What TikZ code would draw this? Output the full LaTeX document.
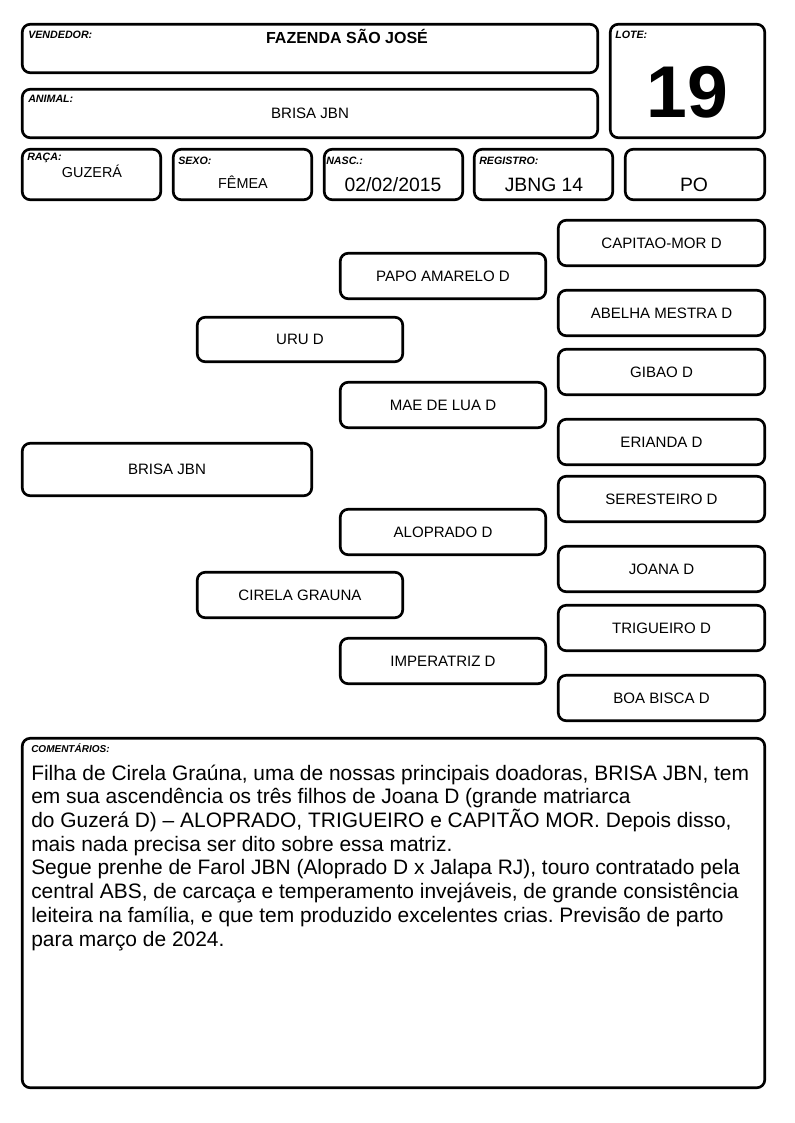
\documentclass[tikz,border=0pt]{standalone}
\usepackage{fontspec}
\setmainfont{Liberation Sans}
\frenchspacing
\newcommand\pbox[6]{\node[box, minimum width={(#4-#2-2.5)*0.75pt}, minimum height={(#5-#3-2.5)*0.75pt}] (#1) at ({(#2+#4)/2},{(#3+#5)/2}) {#6};}
\begin{document}
\begin{tikzpicture}[x=0.75pt,y=-0.75pt,
  box/.style={draw, line width=2pt, rounded corners=6pt, inner sep=0pt, font=\fontsize{11.3}{13}\selectfont},
  lbl/.style={anchor=base west, inner sep=0pt, font=\fontsize{8}{9}\selectfont\bfseries\itshape},
  val/.style={anchor=base, inner sep=0pt, font=\fontsize{10.8}{13}\selectfont},
  bigval/.style={anchor=base, inner sep=0pt, font=\fontsize{14.5}{17}\selectfont},
  cmt/.style={anchor=base west, inner sep=0pt, font=\fontsize{15.7}{18}\selectfont\frenchspacing}]
\useasboundingbox[fill=white] (0,0) rectangle (794,1123);
% header boxes
\pbox{vend}{21}{23}{599}{74}{}
\pbox{anim}{21}{88}{599}{139}{}
\pbox{lote}{609}{23}{766}{139}{}
\pbox{raca}{21}{148}{162}{201}{}
\pbox{sexo}{172}{148}{313}{201}{}
\pbox{nasc}{323}{148}{464}{201}{}
\pbox{reg}{473}{148}{614}{201}{}
\pbox{po}{624}{148}{766}{201}{}
% labels
\node[lbl] (lvend) at (28,39) {VENDEDOR:};
\node[lbl] (lanim) at (28,103) {ANIMAL:};
\node[lbl] (llote) at (615,39) {LOTE:};
\node[lbl] (lraca) at (27,161) {RAÇA:};
\node[lbl] (lsexo) at (178,165) {SEXO:};
\node[lbl] (lnasc) at (326,165) {NASC.:};
\node[lbl] (lreg) at (479,165) {REGISTRO:};
% values
\node[anchor=base, inner sep=0pt, font=\fontsize{12}{14}\selectfont\bfseries] (vvend) at (347,43.5) {FAZENDA SÃO JOSÉ};
\node[anchor=base, inner sep=0pt, font=\fontsize{11.3}{13}\selectfont] (vanim) at (310,119) {BRISA JBN};
\node[anchor=base, inner sep=0pt, font=\fontsize{55}{60}\selectfont\bfseries] (vlote) at (687.5,118) {19};
\node[val] (vraca) at (92,178) {GUZERÁ};
\node[val] (vsexo) at (243,189) {FÊMEA};
\node[bigval] (vnasc) at (393,192) {02/02/2015};
\node[bigval] (vreg) at (544,192) {JBNG 14};
\node[bigval] (vpo) at (694,192) {PO};
% pedigree
\pbox{brisa}{21}{442}{313}{497}{BRISA JBN}
\pbox{uru}{196}{316}{404}{363}{URU D}
\pbox{cirela}{196}{571}{404}{619}{CIRELA GRAUNA}
\pbox{papo}{339}{252}{547}{300}{PAPO AMARELO D}
\pbox{mae}{339}{381}{547}{429}{MAE DE LUA D}
\pbox{alop}{339}{508}{547}{556}{ALOPRADO D}
\pbox{imp}{339}{637}{547}{685}{IMPERATRIZ D}
\pbox{capitao}{557}{219}{766}{267}{CAPITAO-MOR D}
\pbox{abelha}{557}{289}{766}{337}{ABELHA MESTRA D}
\pbox{gibao}{557}{348}{766}{396}{GIBAO D}
\pbox{erianda}{557}{418}{766}{466}{ERIANDA D}
\pbox{seresteiro}{557}{475}{766}{523}{SERESTEIRO D}
\pbox{joana}{557}{545}{766}{593}{JOANA D}
\pbox{trigueiro}{557}{604}{766}{652}{TRIGUEIRO D}
\pbox{boa}{557}{674}{766}{722}{BOA BISCA D}
% comments
\pbox{coment}{21}{737}{766}{1089}{}
\node[lbl, font=\fontsize{7.5}{9}\selectfont\bfseries\itshape] (lcoment) at (31,752) {COMENTÁRIOS:};
\node[cmt] (c1) at (31,780) {Filha de Cirela Graúna, uma de nossas principais doadoras, BRISA JBN, tem};
\node[cmt] (c2) at (31,803.7) {em sua ascendência os três filhos de Joana D (grande matriarca};
\node[cmt] (c3) at (31,827.4) {do Guzerá D) – ALOPRADO, TRIGUEIRO e CAPITÃO MOR. Depois disso,};
\node[cmt] (c4) at (31,851) {mais nada precisa ser dito sobre essa matriz.};
\node[cmt] (c5) at (31,874.8) {Segue prenhe de Farol JBN (Aloprado D x Jalapa RJ), touro contratado pela};
\node[cmt] (c6) at (31,898.5) {central ABS, de carcaça e temperamento invejáveis, de grande consistência};
\node[cmt] (c7) at (31,922) {leiteira na família, e que tem produzido excelentes crias. Previsão de parto};
\node[cmt] (c8) at (31,946) {para março de 2024.};
\end{tikzpicture}
\end{document}
